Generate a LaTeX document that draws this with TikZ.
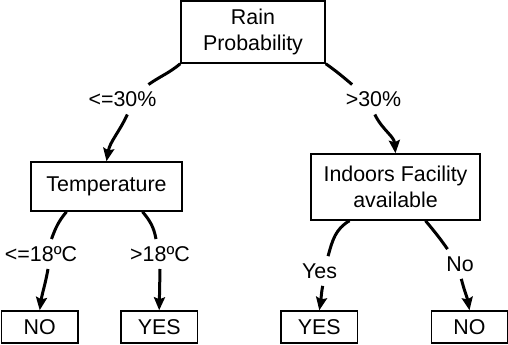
\documentclass[tikz,border=0pt]{standalone}
\usepackage{fontspec}
\setmainfont{Liberation Sans}
\usepackage{tikz}
\usetikzlibrary{arrows.meta,positioning}

\begin{document}
\begin{tikzpicture}[
    x=0.5pt, y=0.5pt,
    font=\fontsize{10.7}{13}\selectfont,
    box/.style={rectangle, draw, line width=0.75pt, align=center, inner sep=0pt},
    leaf/.style={box, minimum width=38.25pt, minimum height=16pt},
    lbl/.style={inner sep=3.5pt},
    edge/.style={line width=1.5pt},
    arr/.style={edge, -{Stealth[length=6.5pt,width=5.5pt,inset=1pt]}}
]
\useasboundingbox (0,0) rectangle (508,-344);

% Decision nodes
\node[box, minimum width=72pt, minimum height=31pt] (root) at (253,-32) {Rain\\Probability};
\node[box, minimum width=75.5pt, minimum height=24.5pt] (temp) at (106.5,-186.5) {Temperature};
\node[box, minimum width=84.5pt, minimum height=33pt] (ind) at (395.5,-187) {Indoors Facility\\available};

% Leaves
\node[leaf] (no1) at (39.7,-327) {NO};
\node[leaf] (yes1) at (159.2,-327) {YES};
\node[leaf] (yes2) at (319.3,-327) {YES};
\node[leaf] (no2) at (469.5,-327) {NO};

% Branch labels
\node[lbl] (l1) at (122.5,-99.5) {<=30\%};
\node[lbl] (l2) at (373.5,-99.5) {>30\%};
\node[lbl] (l3) at (41,-254) {<=18ºC};
\node[lbl] (l4) at (160,-254) {>18ºC};
\node[lbl] (l5) at (319.5,-271) {Yes};
\node[lbl] (l6) at (460,-264) {No};

% Rain Probability branches
\draw[edge] (root.south west) to[out=-140,in=35] (l1.30);
\draw[arr] (l1.-72) to[out=-115,in=80] (temp.north);
\draw[edge] (root.south east) to[out=-35,in=140] (l2.145);
\draw[arr] (l2.-85) to[out=-64,in=95] (ind.north);

% Temperature branches
\draw[edge] ([xshift=-20pt]temp.south) to[out=-130,in=70] (l3.55);
\draw[arr] (l3.-65) to[out=-100,in=82] (no1.north);
\draw[edge] ([xshift=18pt]temp.south) to[out=-50,in=100] (l4.105);
\draw[arr] (l4.south) -- (yes1.north);

% Indoors branches
\draw[edge] ([xshift=-23pt]ind.south) to[out=-150,in=75] (l5.60);
\draw[arr] (l5.-78) to[out=-100,in=80] (yes2.north);
\draw[edge] ([xshift=15pt]ind.south) to[out=-50,in=125] (l6.130);
\draw[arr] (l6.-85) to[out=-76,in=100] (no2.north);

\end{tikzpicture}
\end{document}
